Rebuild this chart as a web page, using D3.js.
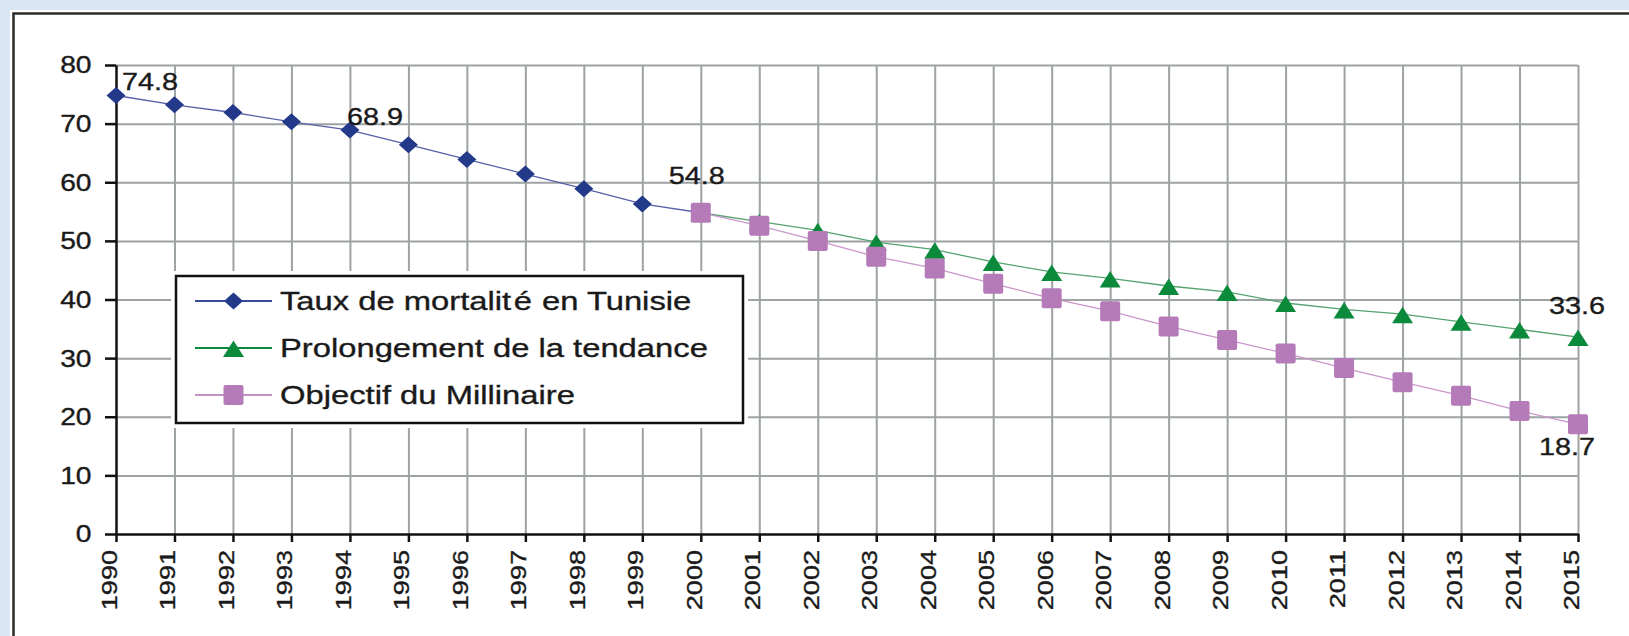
<!DOCTYPE html>
<html>
<head>
<meta charset="utf-8">
<script src="https://cdn.jsdelivr.net/npm/d3@7"></script>
<style>
  html, body { margin: 0; padding: 0; background: #d9e6f3; }
  svg { display: block; }
  text { font-family: "Liberation Sans", Arial, sans-serif; fill: #1a1a1a; stroke: #1a1a1a; stroke-width: 0.35px; }
</style>
</head>
<body>
<div id="chart"></div>
<script>
// data
const years = d3.range(1990, 2016);
const yTicks = [0, 10, 20, 30, 40, 50, 60, 70, 80];

const mortalityYears = d3.range(1990, 2001);
const mortality = [74.8, 73.2, 71.9, 70.3, 68.9, 66.4, 63.9, 61.4, 58.9, 56.3, 54.8];

const projYears = d3.range(2000, 2016);
const trend = [54.8, 53.3, 51.8, 49.8, 48.5, 46.4, 44.7, 43.6, 42.3, 41.3, 39.4, 38.3, 37.5, 36.2, 34.9, 33.6];
const goal = [54.8, 52.6, 50.0, 47.3, 45.3, 42.7, 40.2, 38.0, 35.4, 33.1, 30.8, 28.3, 25.9, 23.6, 21.0, 18.7];

const seriesNames = ["Taux de mortalit", "Prolongement de la tendance", "Objectif du Millinaire"];

const pointLabels = [
  { year: 1990, value: 74.8, text: "74.8", dx: 6, dy: -5, anchor: "start" },
  { year: 1994, value: 68.9, text: "68.9", dx: -3, dy: -5, anchor: "start" },
  { year: 2000, value: 54.8, text: "54.8", dx: -4, dy: -29, anchor: "middle" },
  { year: 2015, value: 33.6, text: "33.6", dx: 27, dy: -23, anchor: "end" },
  { year: 2015, value: 18.7, text: "18.7", dx: 17, dy: 31, anchor: "end" }
];

const width = 1629, height = 636;
const svg = d3.select("#chart").append("svg")
  .attr("width", width)
  .attr("height", height);

// page frame
svg.append("rect").attr("x", 10).attr("y", 10).attr("width", width).attr("height", height)
  .attr("fill", "#ffffff");
svg.append("path")
  .attr("d", `M13.5,${height}V13.5H${width}`)
  .attr("fill", "none").attr("stroke", "#2b2b2b").attr("stroke-width", 2.5);

const x = d3.scaleLinear().domain([1990, 2015]).range([116, 1578]);
const y = d3.scaleLinear().domain([0, 80]).range([534, 65]);

const plot = svg.append("g");

// gridlines
plot.append("g")
  .attr("transform", `translate(0,${y(0)})`)
  .call(d3.axisBottom(x).tickValues(years.slice(1)).tickSize(-(y(0) - y(80))).tickFormat(() => ""))
  .call(g => g.select(".domain").remove())
  .selectAll("line").attr("stroke", "#9da2a2").attr("stroke-width", 2);

plot.append("g")
  .attr("transform", `translate(${x(1990)},0)`)
  .call(d3.axisLeft(y).tickValues(yTicks.slice(1)).tickSize(-(x(2015) - x(1990))).tickFormat(() => ""))
  .call(g => g.select(".domain").remove())
  .selectAll("line").attr("stroke", "#9da2a2").attr("stroke-width", 2);

// axes
const yAxis = plot.append("g")
  .attr("transform", `translate(${x(1990)},0)`)
  .call(d3.axisLeft(y).tickValues(yTicks).tickSize(11).tickSizeOuter(0).tickFormat(() => ""));
yAxis.selectAll("line, path").attr("stroke", "#111").attr("stroke-width", 2.5);

const xAxis = plot.append("g")
  .attr("transform", `translate(0,${y(0)})`)
  .call(d3.axisBottom(x).tickValues(years).tickSize(8).tickSizeOuter(0).tickFormat(() => ""));
xAxis.selectAll("line, path").attr("stroke", "#111").attr("stroke-width", 2.5);

// tick labels (stretched a bit to match the wide type of the picture)
plot.append("g").selectAll("text")
  .data(yTicks)
  .enter().append("text")
    .attr("transform", d => `translate(91.5,${y(d)}) scale(1.2,1)`)
    .attr("text-anchor", "end")
    .attr("dy", "0.36em")
    .attr("font-size", 23.5)
    .text(d => d);

plot.append("g").selectAll("text")
  .data(years)
  .enter().append("text")
    .attr("transform", d => `translate(${x(d) + 1},550) rotate(-90) scale(1.26,1)`)
    .attr("text-anchor", "end")
    .attr("font-size", 21.5)
    .text(d => d);

// lines and markers
const diamond = "M0,-8.5L9.5,0L0,8.5L-9.5,0Z";
const triangle = "M0,-7.5L10.5,9L-10.5,9Z";
const square = "M-8,-10H8Q10,-10 10,-8V8Q10,10 8,10H-8Q-10,10 -10,8V-8Q-10,-10 -8,-10Z";

function drawSeries(xs, vs, lineColor, markColor, shape) {
  const pts = xs.map((yr, i) => ({ yr: yr, v: vs[i] }));
  const line = d3.line().x(d => x(d.yr)).y(d => y(d.v));
  plot.append("path")
    .datum(pts)
    .attr("d", line)
    .attr("fill", "none")
    .attr("stroke", lineColor)
    .attr("stroke-width", 1.3);
  plot.append("g").selectAll("path")
    .data(pts)
    .enter().append("path")
      .attr("d", shape)
      .attr("transform", d => `translate(${x(d.yr)},${y(d.v)})`)
      .attr("fill", markColor);
}

drawSeries(mortalityYears, mortality, "#5560a8", "#233a8b", diamond);
drawSeries(projYears, trend, "#55a36e", "#0b8a3c", triangle);
drawSeries(projYears, goal, "#c996ca", "#b57bb8", square);

// point labels
plot.append("g").selectAll("text")
  .data(pointLabels)
  .enter().append("text")
    .attr("transform", d => `translate(${x(d.year) + d.dx},${y(d.value) + d.dy}) scale(1.2,1)`)
    .attr("text-anchor", d => d.anchor)
    .attr("font-size", 24)
    .text(d => d.text);

// legend
const legend = svg.append("g");
legend.append("rect")
  .attr("x", 171).attr("y", 271).attr("width", 577).attr("height", 157)
  .attr("fill", "#fff");
legend.append("rect")
  .attr("x", 176).attr("y", 276).attr("width", 567).attr("height", 147)
  .attr("fill", "#fff").attr("stroke", "#111").attr("stroke-width", 2.5);

const legendRows = [
  { name: seriesNames[0], line: "#3a4a9a", mark: "#233a8b", shape: diamond },
  { name: seriesNames[1], line: "#0b8a3c", mark: "#0b8a3c", shape: triangle },
  { name: seriesNames[2], line: "#c592c6", mark: "#b57bb8", shape: square }
];
const legendY = d3.scalePoint().domain(d3.range(legendRows.length)).range([301, 395]);

const rows = legend.selectAll("g.row")
  .data(legendRows)
  .enter().append("g")
    .attr("class", "row")
    .attr("transform", (d, i) => `translate(0,${legendY(i)})`);
rows.append("line")
  .attr("x1", 195).attr("x2", 272)
  .attr("stroke", d => d.line).attr("stroke-width", 2);
rows.append("path")
  .attr("d", d => d.shape)
  .attr("transform", "translate(233.5,0)")
  .attr("fill", d => d.mark);
const labels = rows.append("text")
  .attr("transform", "translate(280,9) scale(1.26,1)")
  .attr("font-size", 26)
  .text(d => d.name);
// first entry keeps the odd spacing of the original
labels.filter((d, i) => i === 0)
  .call(t => {
    t.append("tspan").attr("dx", 2).text("é");
    t.append("tspan").attr("dx", 8).text("en Tunisie");
  });
</script>
</body>
</html>
